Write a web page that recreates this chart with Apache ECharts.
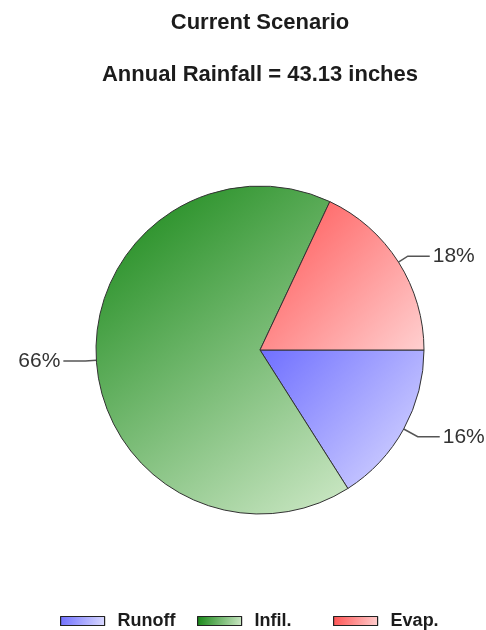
<!DOCTYPE html>
<html>
<head>
<meta charset="utf-8">
<script src="https://cdn.jsdelivr.net/npm/echarts@6/dist/echarts.min.js"></script>
<style>
  html, body { margin: 0; padding: 0; background: #fff; }
  #chart { width: 486px; height: 630px; }
</style>
</head>
<body>
<div id="chart"></div>
<script>
// Water balance shares (percent of annual rainfall)
const categories = ['Runoff', 'Infil.', 'Evap.'];
const shares = [16, 66, 18];
const titleText = 'Current Scenario';
const subtitleText = 'Annual Rainfall = 43.13 inches';

// Per-slice diagonal gradients: saturated at top-left, pale at bottom-right
const gradientStops = [
  ['#6f6fff', '#dcdcff'],
  ['#148614', '#cfe9c8'],
  ['#ff5252', '#ffd0d0']
];
// Radial length of each leader line's first segment
const leaderLengths = [16, 11, 11];

function grad(pair) {
  return {
    type: 'linear', x: 0, y: 0, x2: 1, y2: 1,
    colorStops: [{ offset: 0, color: pair[0] }, { offset: 1, color: pair[1] }]
  };
}

// Legend entries sit in fixed-width columns along the bottom
const legendColumns = [60, 197, 333];
const legendFont = { fontFamily: 'Liberation Sans', fontSize: 18, fontWeight: 'bold', color: '#1c1c1c', padding: [0, 0, 0, 8] };
const legends = categories.map((name, i) => ({
  data: [name],
  top: 612, left: legendColumns[i], padding: 0,
  itemWidth: 44, itemHeight: 9,
  icon: 'rect',
  itemStyle: { borderColor: '#222', borderWidth: 1.2 },
  textStyle: legendFont
}));

const titleFont = { fontFamily: 'Liberation Sans', fontSize: 22, fontWeight: 'bold', color: '#1c1c1c' };

const chart = echarts.init(document.getElementById('chart'), null, { renderer: 'canvas' });

chart.setOption({
  animation: false,
  backgroundColor: '#ffffff',
  title: [
    { text: titleText, left: 255, textAlign: 'center', top: 7, textStyle: titleFont },
    { text: subtitleText, left: 255, textAlign: 'center', top: 59, textStyle: titleFont }
  ],
  legend: legends,
  series: [{
    type: 'pie',
    center: [260, 350],
    radius: 164,
    startAngle: 0,
    clockwise: true,
    itemStyle: { borderColor: '#333', borderWidth: 1 },
    label: {
      show: true, position: 'outside',
      formatter: p => p.value + '%',
      fontFamily: 'Liberation Sans', fontSize: 21, color: '#333',
      overflow: 'none',
      distanceToLabelLine: 3
    },
    labelLine: {
      show: true, length: 11, length2: 22,
      lineStyle: { color: '#555', width: 1.5 }
    },
    emphasis: { disabled: true },
    data: categories.map((name, i) => ({
      name: name,
      value: shares[i],
      itemStyle: { color: grad(gradientStops[i]) },
      labelLine: { length: leaderLengths[i] }
    }))
  }]
});
</script>
</body>
</html>
